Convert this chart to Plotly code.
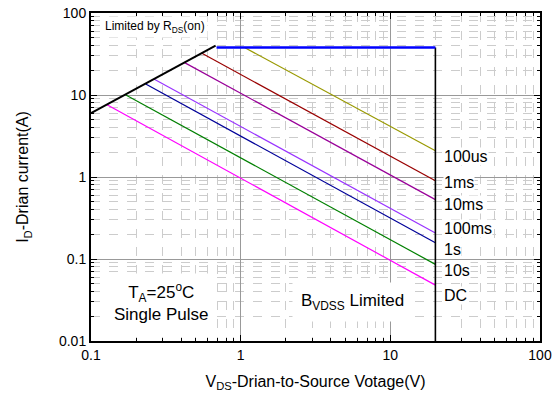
import plotly.graph_objects as go

# ---- data ----
rds_v = [0.1, 0.68]
rds_i = [6.0, 40.0]
cur_limit_v = [0.69, 20]
cur_limit_i = [38, 38]
bvdss_v = [20, 20]
bvdss_i = [38, 0.01]

pulse_names = ["100us", "1ms", "10ms", "100ms", "1s", "10s", "DC"]
pulse_v_start = [1.06, 0.547, 0.419, 0.263, 0.232, 0.171, 0.128]
pulse_i_start = [38.0, 32.5, 25.0, 15.7, 13.6, 10.0, 7.6]
pulse_v_end = [20, 20, 20, 20, 20, 20, 20]
pulse_i_end = [2.09, 0.90, 0.53, 0.207, 0.158, 0.086, 0.048]
pulse_colors = ["#999900", "#990000", "#990099", "#9933ff", "#000099", "#008000", "#ff00ff"]

x_ticks = [0.1, 1, 10, 100]
x_tick_text = ["0.1", "1", "10", "100"]
y_ticks = [0.01, 0.1, 1, 10, 100]
y_tick_text = ["0.01", "0.1", "1", "10", "100"]

# label positions (log10 y) for the pulse labels
label_logy = [0.244, -0.061, -0.341, -0.634, -0.890, -1.146, -1.439]

FONT = "Arial, 'Liberation Sans', sans-serif"

fig = go.Figure()
for n, vs, is_, ve, ie, c in zip(pulse_names, pulse_v_start, pulse_i_start, pulse_v_end, pulse_i_end, pulse_colors):
    fig.add_trace(go.Scatter(x=[vs, ve], y=[is_, ie], mode="lines", line=dict(color=c, width=1.2),
                             name=n, showlegend=False, hoverinfo="skip"))
fig.add_trace(go.Scatter(x=bvdss_v, y=bvdss_i, mode="lines", line=dict(color="black", width=1.6),
                         showlegend=False, hoverinfo="skip"))
fig.add_trace(go.Scatter(x=cur_limit_v, y=cur_limit_i, mode="lines", line=dict(color="#0000ff", width=2.5),
                         showlegend=False, hoverinfo="skip"))
fig.add_trace(go.Scatter(x=rds_v, y=rds_i, mode="lines", line=dict(color="black", width=2),
                         showlegend=False, hoverinfo="skip"))

for n, ly in zip(pulse_names, label_logy):
    fig.add_annotation(x=1.353, y=ly, xref="x", yref="y", text=n, showarrow=False,
                       xanchor="left", yanchor="middle", bgcolor="white",
                       font=dict(family=FONT, size=16, color="black"), borderpad=0)

fig.add_annotation(x=0.025, y=0.958, xref="paper", yref="paper", text="Limited by R<sub>DS</sub>(on)",
                   showarrow=False, xanchor="left", yanchor="middle", bgcolor="white",
                   font=dict(family=FONT, size=12, color="black"), borderpad=2)
fig.add_annotation(x=0.158, y=0.119, xref="paper", yref="paper",
                   text="T<sub>A</sub>=25<sup>o</sup>C<br>Single Pulse",
                   showarrow=False, xanchor="center", yanchor="middle", bgcolor="white",
                   font=dict(family=FONT, size=17, color="black"), borderpad=6)
fig.add_annotation(x=0.583, y=0.119, xref="paper", yref="paper", text="B<sub>VDSS</sub> Limited",
                   showarrow=False, xanchor="center", yanchor="middle", bgcolor="white",
                   font=dict(family=FONT, size=17, color="black"), borderpad=8)

common = dict(type="log", showline=True, linecolor="black", linewidth=2, mirror="allticks",
              ticks="inside", ticklen=6, tickwidth=1, tickcolor="black", automargin=False,
              showgrid=True, gridcolor="#999999", gridwidth=1, zeroline=False,
              tickfont=dict(family=FONT, size=14, color="black"),
              minor=dict(dtick="D1", ticks="inside", ticklen=3, tickcolor="black", tickwidth=1,
                         showgrid=True, gridcolor="#cccccc", griddash="dash", gridwidth=1))

fig.update_xaxes(range=[-1, 2], tickvals=x_ticks, ticktext=x_tick_text,
                 title=dict(text="V<sub>DS</sub>-Drian-to-Source Votage(V)", standoff=14,
                            font=dict(family=FONT, size=16, color="black")), **common)
fig.update_yaxes(range=[-2, 2], tickvals=y_ticks, ticktext=y_tick_text,
                 title=dict(text="I<sub>D</sub>-Drian current(A)", standoff=26,
                            font=dict(family=FONT, size=16, color="black")), **common)

fig.update_layout(width=558, height=398, margin=dict(l=91, r=18, t=13, b=57),
                  paper_bgcolor="white", plot_bgcolor="white",
                  font=dict(family=FONT, color="black"))

fig.write_html("out.html")
